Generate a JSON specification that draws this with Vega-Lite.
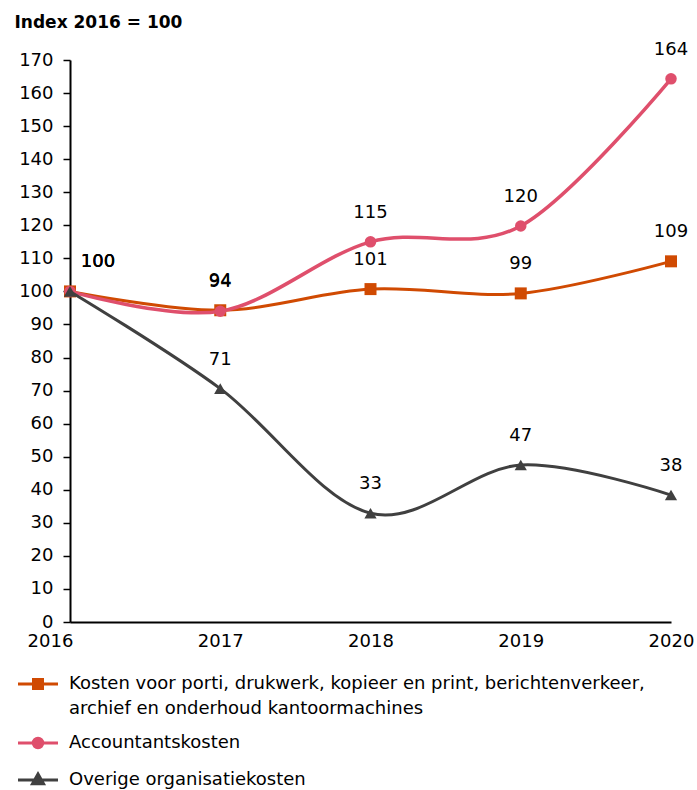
{
  "$schema": "https://vega.github.io/schema/vega-lite/v6.json",
  "width": 601,
  "height": 562,
  "autosize": {"type": "none"},
  "padding": {"left": 70, "top": 60, "right": 26, "bottom": 168},
  "background": "white",
  "config": {"view": {"stroke": null}, "font": "DejaVu Sans"},
  "data": {
    "values": [
      {"year": 2016, "series": "Kosten voor porti, drukwerk, kopieer en print, berichtenverkeer, archief en onderhoud kantoormachines", "value": 100, "label": "100"},
      {"year": 2017, "series": "Kosten voor porti, drukwerk, kopieer en print, berichtenverkeer, archief en onderhoud kantoormachines", "value": 94.3, "label": "94"},
      {"year": 2018, "series": "Kosten voor porti, drukwerk, kopieer en print, berichtenverkeer, archief en onderhoud kantoormachines", "value": 100.7, "label": "101"},
      {"year": 2019, "series": "Kosten voor porti, drukwerk, kopieer en print, berichtenverkeer, archief en onderhoud kantoormachines", "value": 99.4, "label": "99"},
      {"year": 2020, "series": "Kosten voor porti, drukwerk, kopieer en print, berichtenverkeer, archief en onderhoud kantoormachines", "value": 109.1, "label": "109"},
      {"year": 2016, "series": "Accountantskosten", "value": 100, "label": "100"},
      {"year": 2017, "series": "Accountantskosten", "value": 94, "label": "94"},
      {"year": 2018, "series": "Accountantskosten", "value": 115, "label": "115"},
      {"year": 2019, "series": "Accountantskosten", "value": 119.8, "label": "120"},
      {"year": 2020, "series": "Accountantskosten", "value": 164.3, "label": "164"},
      {"year": 2016, "series": "Overige organisatiekosten", "value": 100, "label": "100"},
      {"year": 2017, "series": "Overige organisatiekosten", "value": 70.6, "label": "71"},
      {"year": 2018, "series": "Overige organisatiekosten", "value": 32.9, "label": "33"},
      {"year": 2019, "series": "Overige organisatiekosten", "value": 47.5, "label": "47"},
      {"year": 2020, "series": "Overige organisatiekosten", "value": 38.4, "label": "38"}
    ]
  },
  "encoding": {
    "x": {
      "field": "year", "type": "quantitative",
      "scale": {"domain": [2016, 2020], "nice": false, "zero": false},
      "axis": {
        "title": null, "values": [2016, 2017, 2018, 2019, 2020], "format": "d",
        "grid": false, "ticks": false, "tickSize": 0, "labelFlush": false,
        "domainColor": "#000000", "domainWidth": 2,
        "labelFont": "DejaVu Sans", "labelFontSize": 18, "labelColor": "#000000",
        "labelPadding": 10,
        "labelOffset": {"expr": "datum.value == 2016 ? -20 : 0"}
      }
    },
    "y": {
      "field": "value", "type": "quantitative",
      "scale": {"domain": [0, 170], "nice": false, "zero": true},
      "axis": {
        "values": [0, 10, 20, 30, 40, 50, 60, 70, 80, 90, 100, 110, 120, 130, 140, 150, 160, 170],
        "grid": false, "ticks": true, "tickSize": 7, "tickColor": "#000000", "tickWidth": 1.5,
        "domainColor": "#000000", "domainWidth": 2,
        "labelFont": "DejaVu Sans", "labelFontSize": 18, "labelColor": "#000000", "labelPadding": 10,
        "title": "Index 2016 = 100", "titleAngle": 0, "titleX": -56, "titleY": -33,
        "titleAlign": "left", "titleBaseline": "alphabetic",
        "titleFont": "DejaVu Sans", "titleFontSize": 17, "titleFontWeight": "bold", "titleColor": "#000000"
      }
    }
  },
  "layer": [
    {
      "transform": [{"filter": "indexof(datum.series, 'Kosten') == 0"}],
      "mark": {"type": "line", "interpolate": "cardinal", "strokeWidth": 3,
        "point": {"shape": "square", "filled": true, "size": 144, "opacity": 1}},
      "encoding": {
        "color": {
          "field": "series", "type": "nominal",
          "scale": {
            "domain": ["Kosten voor porti, drukwerk, kopieer en print, berichtenverkeer, archief en onderhoud kantoormachines", "Accountantskosten", "Overige organisatiekosten"],
            "range": ["#D04A02", "#DF4F6C", "#404040"]
          },
          "legend": {
            "orient": "none", "legendX": -41, "legendY": 615, "direction": "vertical",
            "title": null, "padding": 0,
            "labelFont": "DejaVu Sans", "labelFontSize": 18, "labelColor": "#000000",
            "labelLimit": 700, "labelOffset": 22,
            "symbolSize": 100, "symbolStrokeWidth": 3, "rowPadding": 14,
            "labelExpr": "indexof(datum.label, 'Kosten') == 0 ? ['Kosten voor porti, drukwerk, kopieer en print, berichtenverkeer,', 'archief en onderhoud kantoormachines'] : datum.label",
            "encoding": {
              "symbols": {
                "shape": {"value": {"expr": "indexof(datum.value, 'Kosten') == 0 ? 'M-4,0H4M-0.9,-0.9H0.9V0.9H-0.9Z' : (datum.value == 'Accountantskosten' ? 'M-4,0H4M0.95,0A0.95,0.95,0,1,1,-0.95,0A0.95,0.95,0,1,1,0.95,0Z' : 'M-4,0H4M0,-1.2L1.1,0.75H-1.1Z')"}},
                "fill": {"value": {"expr": "scale('color', datum.value)"}},
                "stroke": {"value": {"expr": "scale('color', datum.value)"}},
                "strokeWidth": {"value": 3}
              },
              "labels": {"lineHeight": {"value": 25}}
            }
          }
        }
      }
    },
    {
      "transform": [{"filter": "datum.series == 'Accountantskosten'"}],
      "mark": {"type": "line", "interpolate": "cardinal", "strokeWidth": 3.5,
        "point": {"shape": "circle", "filled": true, "size": 133, "opacity": 1}},
      "encoding": {"color": {"field": "series", "type": "nominal"}}
    },
    {
      "transform": [{"filter": "datum.series == 'Overige organisatiekosten'"}],
      "mark": {"type": "line", "interpolate": "cardinal", "strokeWidth": 3,
        "point": {"shape": "triangle-up", "filled": true, "size": 150, "opacity": 1}},
      "encoding": {"color": {"field": "series", "type": "nominal"}}
    },
    {
      "transform": [{"filter": "datum.year != 2016"}],
      "mark": {"type": "text", "dy": -29, "font": "DejaVu Sans", "fontSize": 18, "color": "#000000", "baseline": "middle"},
      "encoding": {"text": {"field": "label"}}
    },
    {
      "transform": [{"filter": "datum.year == 2016"}],
      "mark": {"type": "text", "dx": 28, "dy": -29, "font": "DejaVu Sans", "fontSize": 18, "color": "#000000", "baseline": "middle"},
      "encoding": {"text": {"field": "label"}}
    }
  ]
}
